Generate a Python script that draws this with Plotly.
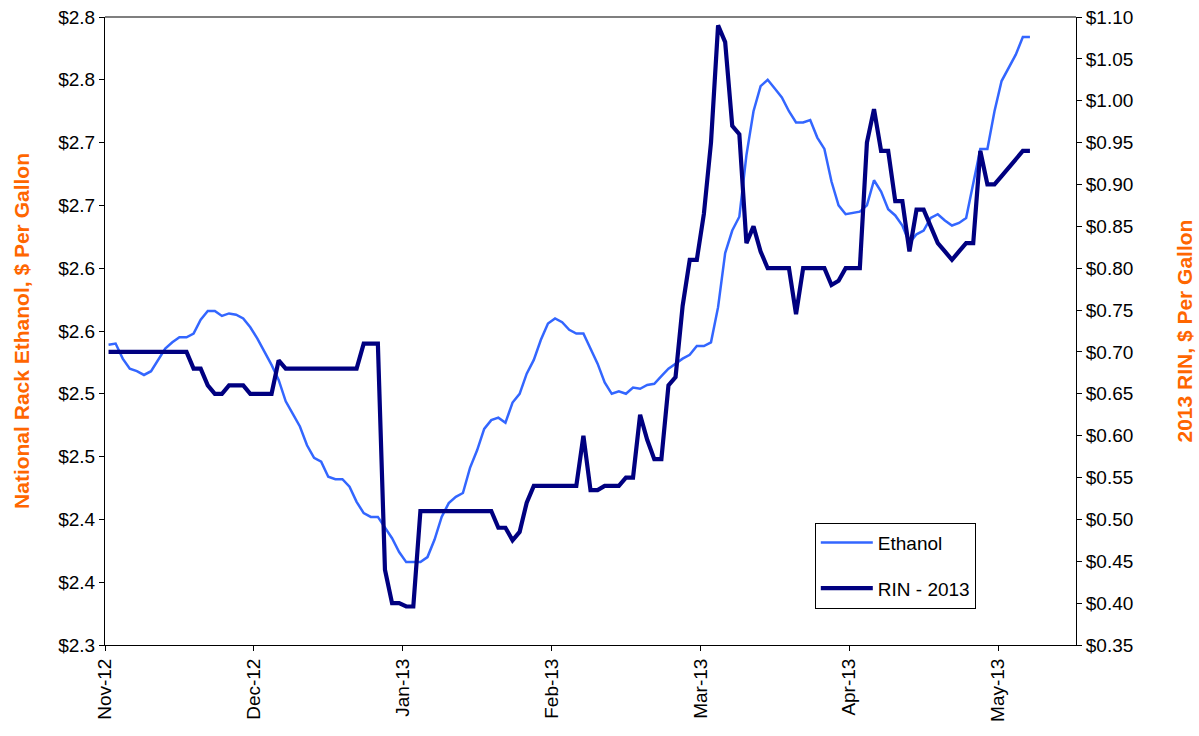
import plotly.graph_objects as go

# ---------------- data ----------------
months = ["Nov-12", "Dec-12", "Jan-13", "Feb-13", "Mar-13", "Apr-13", "May-13"]
points_per_month = 21

ethanol = [
    2.539, 2.540, 2.528, 2.520, 2.518, 2.515, 2.518, 2.527, 2.536, 2.541,
    2.545, 2.545, 2.548, 2.559, 2.566, 2.566, 2.562, 2.564, 2.563, 2.560,
    2.553, 2.544, 2.534, 2.523, 2.511, 2.494, 2.484, 2.474, 2.459, 2.449,
    2.446, 2.434, 2.432, 2.432, 2.426, 2.414, 2.405, 2.402, 2.402, 2.394,
    2.385, 2.374, 2.366, 2.366, 2.366, 2.370, 2.384, 2.402, 2.413, 2.418,
    2.421, 2.441, 2.455, 2.472, 2.479, 2.481, 2.477, 2.493, 2.500, 2.516,
    2.527, 2.543, 2.556, 2.560, 2.557, 2.551, 2.548, 2.548, 2.536, 2.524,
    2.509, 2.500, 2.502, 2.500, 2.505, 2.504, 2.507, 2.508, 2.514, 2.520,
    2.524, 2.528, 2.531, 2.538, 2.538, 2.541, 2.569, 2.612, 2.630, 2.641,
    2.690, 2.725, 2.745, 2.750, 2.743, 2.736, 2.725, 2.716, 2.716, 2.718,
    2.704, 2.695, 2.669, 2.650, 2.643, 2.644, 2.645, 2.650, 2.670, 2.661,
    2.647, 2.642, 2.634, 2.620, 2.627, 2.630, 2.640, 2.643, 2.638, 2.634,
    2.636, 2.640, 2.669, 2.695, 2.695, 2.725, 2.749, 2.759, 2.770, 2.784,
    2.784,
]

rin_2013 = [
    0.70, 0.70, 0.70, 0.70, 0.70, 0.70, 0.70, 0.70, 0.70, 0.70,
    0.70, 0.70, 0.68, 0.68, 0.66, 0.65, 0.65, 0.66, 0.66, 0.66,
    0.65, 0.65, 0.65, 0.65, 0.69, 0.68, 0.68, 0.68, 0.68, 0.68,
    0.68, 0.68, 0.68, 0.68, 0.68, 0.68, 0.71, 0.71, 0.71, 0.44,
    0.40, 0.40, 0.396, 0.396, 0.51, 0.51, 0.51, 0.51, 0.51, 0.51,
    0.51, 0.51, 0.51, 0.51, 0.51, 0.49, 0.49, 0.475, 0.485, 0.52,
    0.54, 0.54, 0.54, 0.54, 0.54, 0.54, 0.54, 0.60, 0.535, 0.535,
    0.54, 0.54, 0.54, 0.55, 0.55, 0.625, 0.595, 0.572, 0.572, 0.66,
    0.67, 0.755, 0.81, 0.81, 0.865, 0.95, 1.09, 1.07, 0.97, 0.96,
    0.83, 0.85, 0.82, 0.80, 0.80, 0.80, 0.80, 0.745, 0.80, 0.80,
    0.80, 0.80, 0.78, 0.785, 0.80, 0.80, 0.80, 0.95, 0.99, 0.94,
    0.94, 0.88, 0.88, 0.82, 0.87, 0.87, 0.85, 0.83, 0.82, 0.81,
    0.82, 0.83, 0.83, 0.94, 0.90, 0.90, 0.91, 0.92, 0.93, 0.94,
    0.94,
]

left_tick_values = [2.30, 2.35, 2.40, 2.45, 2.50, 2.55, 2.60, 2.65, 2.70, 2.75, 2.80]
left_tick_labels = ["$2.3", "$2.4", "$2.4", "$2.5", "$2.5", "$2.6", "$2.6",
                    "$2.7", "$2.7", "$2.8", "$2.8"]

# ---------------- figure ----------------
x = list(range(len(ethanol)))
month_ticks = [-0.5 + points_per_month * k for k in range(len(months))]
x_range = [-0.5, 136.5]

FONT = "Liberation Sans, Arial, sans-serif"
ORANGE = "#FF6600"

fig = go.Figure()
fig.add_trace(go.Scatter(
    x=x, y=ethanol, name="Ethanol", mode="lines",
    line=dict(color="#3366FF", width=2.5), yaxis="y", legendgroup="a",
))
fig.add_trace(go.Scatter(
    x=x, y=rin_2013, name="RIN - 2013", mode="lines",
    line=dict(color="#000080", width=4.2), yaxis="y2", legendgroup="b",
))

tickfont = dict(family=FONT, size=19, color="black")

fig.update_layout(
    width=1199, height=736,
    margin=dict(l=105, r=123, t=17, b=91, autoexpand=False),
    paper_bgcolor="white", plot_bgcolor="white",
    font=dict(family=FONT, size=19, color="black"),
    showlegend=True,
    legend=dict(
        x=0.731, y=0.195, xanchor="left", yanchor="top",
        bordercolor="black", borderwidth=1, bgcolor="white",
        font=dict(family=FONT, size=19, color="black"),
        tracegroupgap=18, itemwidth=52,
    ),
    xaxis=dict(
        range=x_range, tickmode="array", tickvals=month_ticks, ticktext=months,
        tickangle=-90, ticks="outside", ticklen=5, tickcolor="black",
        showline=True, linecolor="black", linewidth=1, showgrid=False,
        zeroline=False, tickfont=tickfont, automargin=False,
    ),
    xaxis2=dict(
        range=x_range, tickmode="array", tickvals=month_ticks,
        overlaying="x", anchor="y", side="bottom", ticks="inside", ticklen=5,
        tickcolor="black", showticklabels=False, showline=False,
        showgrid=False, zeroline=False, automargin=False,
    ),
    yaxis=dict(
        range=[2.30, 2.80], tickmode="array", tickvals=left_tick_values,
        ticktext=left_tick_labels, ticks="outside", ticklen=5, tickcolor="black",
        showline=True, linecolor="black", linewidth=1, showgrid=False,
        zeroline=False, tickfont=tickfont, automargin=False,
        title=dict(text="<b>National Rack Ethanol, $ Per Gallon</b>",
                   font=dict(family=FONT, size=21, color=ORANGE), standoff=22),
    ),
    yaxis2=dict(
        range=[0.35, 1.10], tick0=0.35, dtick=0.05, tickprefix="$",
        tickformat=".2f", overlaying="y", side="right", anchor="x",
        ticks="outside", ticklen=5, tickcolor="black",
        showline=True, linecolor="black", linewidth=1, showgrid=False,
        zeroline=False, tickfont=tickfont, automargin=False,
        title=dict(text="<b>2013 RIN, $ Per Gallon</b>",
                   font=dict(family=FONT, size=21, color=ORANGE), standoff=44),
    ),
    yaxis3=dict(
        range=[2.30, 2.80], tickmode="array", tickvals=left_tick_values,
        overlaying="y", side="left", anchor="x", ticks="inside", ticklen=5,
        tickcolor="black", showticklabels=False, showline=False,
        showgrid=False, zeroline=False, automargin=False,
    ),
    yaxis4=dict(
        range=[0.35, 1.10], tick0=0.35, dtick=0.05,
        overlaying="y", side="right", anchor="x", ticks="inside", ticklen=5,
        tickcolor="black", showticklabels=False, showline=False,
        showgrid=False, zeroline=False, automargin=False,
    ),
    shapes=[dict(type="line", xref="paper", yref="paper", x0=0, x1=1, y0=1, y1=1,
                 line=dict(color="#555555", width=1.5))],
)

fig.write_html("out.html")
